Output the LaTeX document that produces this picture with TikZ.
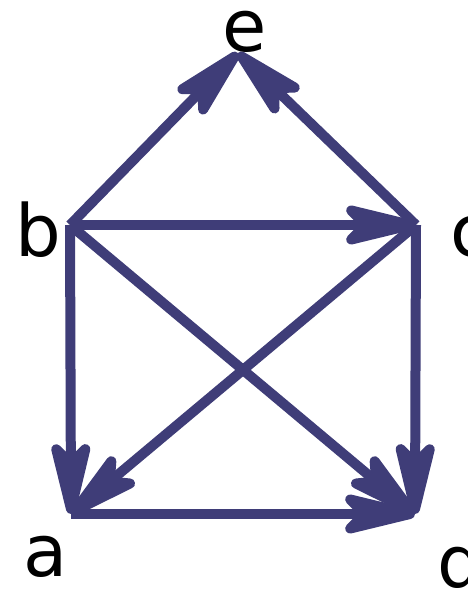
\documentclass[tikz,border=0pt]{standalone}
\usepackage{fontspec}
\setmainfont{DejaVu Sans}
\usetikzlibrary{arrows.meta}
\definecolor{edgeblue}{HTML}{3F3D78}
\tikzset{
  edge/.style={draw=edgeblue, line width=10pt, arrows={-Stealth[length=96pt, width=46pt, inset=22pt, round]}},
  lbl/.style={font=\fontsize{72}{80}\selectfont, inner sep=0pt, anchor=base}
}
\begin{document}
\begin{tikzpicture}[x=1pt,y=1pt]
\useasboundingbox (0,0) rectangle (467,589);
\coordinate (b) at (70,364);
\coordinate (c) at (416,364);
\coordinate (e) at (238,536);
\coordinate (a) at (71,75);
\coordinate (d) at (415,75);
\node[lbl] (le) at (245,537) {e};
\node[lbl] (lb) at (38,332) {b};
\node[lbl] (lc) at (470,332) {c};
\node[lbl] (la) at (46,12) {a};
\node[lbl] (ld) at (460,1) {d};
\draw[edge] (b) -- (e);
\draw[edge] (c) -- (e);
\draw[edge] (b) -- (c);
\draw[edge] (b) -- (a);
\draw[edge] (b) -- (d);
\draw[edge] (c) -- (a);
\draw[edge] (c) -- (d);
\draw[edge] (a) -- (d);
\end{tikzpicture}
\end{document}
